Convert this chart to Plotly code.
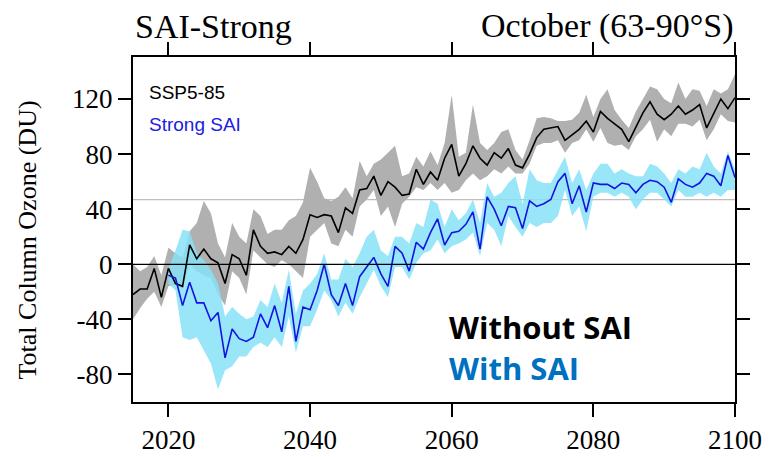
import plotly.graph_objects as go

years = list(range(2015, 2101))

ssp585 = [-22, -18, -18, -3, -24, -3, -14, -16, 14, 4, 11, 4, 1, -14, 7, 4, -8, 25, 13, 8,
          9, 7, 13, 8, 18, 36, 34, 36, 35, 23, 41, 37, 54, 55, 64, 50, 60, 56, 50, 51,
          69, 58, 67, 61, 77, 87, 64, 73, 86, 77, 72, 81, 77, 84, 72, 70, 80, 92, 98, 99,
          100, 90, 94, 98, 104, 96, 111, 106, 102, 98, 89, 100, 110, 118, 109, 105, 109, 115, 109, 112,
          116, 99, 110, 120, 113, 121]
ssp585_hi = [0, -5, -2, 6, -8, 12, 8, 5, 24, 30, 46, 37, 15, 5, 30, 20, 15, 40, 35, 22,
             25, 25, 32, 35, 45, 70, 60, 48, 46, 49, 56, 48, 75, 64, 73, 76, 81, 86, 64, 66,
             78, 71, 82, 72, 88, 123, 78, 81, 116, 88, 83, 88, 96, 98, 83, 76, 90, 106, 107, 106,
             104, 104, 105, 110, 123, 107, 120, 127, 112, 105, 99, 111, 120, 129, 127, 120, 117, 132, 120, 127,
             126, 115, 127, 124, 127, 138]
ssp585_lo = [-40, -32, -25, -20, -31, -16, -15, -18, 0, -5, -8, -10, -22, -30, -5, -10, -22, 10, 5, 0,
             -2, 3, 0, -5, -10, 20, 25, 30, 15, 13, 25, 20, 42, 47, 54, 35, 42, 27, 44, 49,
             56, 54, 59, 54, 59, 52, 54, 61, 66, 61, 64, 69, 66, 71, 66, 66, 73, 86, 88, 88,
             90, 81, 88, 90, 98, 89, 99, 88, 86, 87, 83, 93, 98, 105, 89, 98, 93, 102, 102, 100,
             105, 90, 98, 109, 104, 103]

sai_years = list(range(2020, 2101))
sai = [-8, -10, -30, -13, -28, -28, -41, -35, -68, -47, -54, -56, -53, -36, -46, -30, -49, -16, -56, -31,
       -33, -19, 0, -22, -30, -14, -30, -9, -2, 5, -7, -16, 13, 8, -5, 16, 11, 23, 33, 14,
       23, 24, 29, 38, 11, 49, 40, 28, 42, 41, 26, 46, 42, 44, 47, 60, 66, 44, 57, 38,
       59, 58, 58, 55, 59, 58, 52, 58, 61, 60, 56, 45, 62, 58, 56, 59, 66, 64, 57, 79, 63]
sai_hi = [-3, 10, 25, 24, 8, 3, -4, -14, -38, -31, -36, -40, -38, -26, -31, -14, -28, -4, -36, -19,
          -14, -7, 8, -11, -11, 4, -2, 8, 20, 25, 10, 6, 20, 20, 15, 30, 27, 47, 44, 27,
          40, 32, 37, 47, 30, 59, 49, 52, 59, 64, 44, 69, 61, 59, 59, 69, 78, 59, 69, 54,
          66, 73, 73, 66, 69, 66, 64, 64, 73, 71, 66, 59, 69, 66, 71, 69, 81, 71, 66, 82, 69]
sai_lo = [-14, -19, -53, -55, -53, -62, -72, -91, -77, -74, -67, -67, -60, -57, -60, -53, -60, -38, -64, -45,
          -45, -33, -19, -26, -38, -28, -36, -24, -14, -4, -16, -24, -2, -2, -11, 1, 8, 10, 18, 8,
          13, 15, 18, 23, 6, 30, 25, 13, 35, 27, 20, 30, 27, 30, 30, 35, 54, 35, 42, 24,
          49, 52, 52, 49, 52, 49, 40, 47, 52, 52, 47, 42, 54, 49, 49, 52, 49, 52, 49, 54, 54]

x_ticks = [2020, 2040, 2060, 2080, 2100]
x_tick_labels = ["2020", "2040", "2060", "2080", "2100"]
y_ticks = [-80, -40, 0, 40, 80, 120]
y_tick_labels = ["-80", "-40", "0", "40", "80", "120"]
ref_level = 47

fig = go.Figure()

fig.add_trace(go.Scatter(x=years + years[::-1], y=ssp585_hi + ssp585_lo[::-1],
                         fill="toself", fillcolor="rgb(176,176,176)", line=dict(width=0),
                         mode="lines", hoverinfo="skip", showlegend=False))
fig.add_trace(go.Scatter(x=sai_years + sai_years[::-1], y=sai_hi + sai_lo[::-1],
                         fill="toself", fillcolor="rgba(136,226,248,0.85)", line=dict(width=0),
                         mode="lines", hoverinfo="skip", showlegend=False))
fig.add_trace(go.Scatter(x=years, y=ssp585, mode="lines",
                         line=dict(color="black", width=1.6), showlegend=False))
fig.add_trace(go.Scatter(x=sai_years, y=sai, mode="lines",
                         line=dict(color="#1414e0", width=1.6), showlegend=False))

fig.add_hline(y=ref_level, line=dict(color="#bdbdbd", width=1.2), layer="below")
fig.add_hline(y=0, line=dict(color="black", width=1.2))

serif = "Liberation Serif, Times New Roman, serif"
axis_common = dict(showgrid=False, zeroline=False, showline=True, linecolor="black",
                   linewidth=2, mirror="ticks", ticks="outside", ticklen=13,
                   tickwidth=1.5, tickcolor="black", automargin=False,
                   tickfont=dict(family=serif, size=27, color="black"))

fig.update_xaxes(range=[2015, 2100], tickvals=x_ticks, ticktext=x_tick_labels, **axis_common)
fig.update_yaxes(range=[-100, 150.5], tickvals=y_ticks, ticktext=y_tick_labels, **axis_common)

fig.add_annotation(text="Total Column Ozone (DU)", xref="paper", yref="paper",
                   x=-0.175, y=0.47, textangle=-90, xanchor="center", yanchor="middle",
                   showarrow=False, font=dict(family=serif, size=26, color="black"))
fig.add_annotation(text="SAI-Strong", xref="paper", yref="paper", x=0, y=1.0,
                   xanchor="left", yanchor="bottom", yshift=10, showarrow=False,
                   font=dict(family=serif, size=34, color="black"))
fig.add_annotation(text="October (63-90°S)", xref="paper", yref="paper", x=1, y=1.0,
                   xanchor="right", yanchor="bottom", yshift=10, showarrow=False,
                   font=dict(family=serif, size=34, color="black"))
fig.add_annotation(text="SSP5-85", xref="paper", yref="paper", x=0.024, y=0.896,
                   xanchor="left", yanchor="middle", showarrow=False,
                   font=dict(family="Liberation Sans, Arial", size=19, color="black"))
fig.add_annotation(text="Strong SAI", xref="paper", yref="paper", x=0.024, y=0.803,
                   xanchor="left", yanchor="middle", showarrow=False,
                   font=dict(family="Liberation Sans, Arial", size=19, color="#2020e0"))
fig.add_annotation(text="<b>Without SAI</b>", xref="paper", yref="paper", x=0.522, y=0.218,
                   xanchor="left", yanchor="middle", showarrow=False,
                   font=dict(family="Open Sans, Lato, sans-serif", size=31, color="black"))
fig.add_annotation(text="<b>With SAI</b>", xref="paper", yref="paper", x=0.522, y=0.098,
                   xanchor="left", yanchor="middle", showarrow=False,
                   font=dict(family="Open Sans, Lato, sans-serif", size=31, color="#0070C0"))

# page body has an 8px margin, so the margins are shifted to keep the plot frame in place
fig.update_layout(width=776, height=457, margin=dict(l=125, r=49, t=49, b=63, autoexpand=False),
                  paper_bgcolor="white", plot_bgcolor="white", showlegend=False)

fig.write_html("out.html")
